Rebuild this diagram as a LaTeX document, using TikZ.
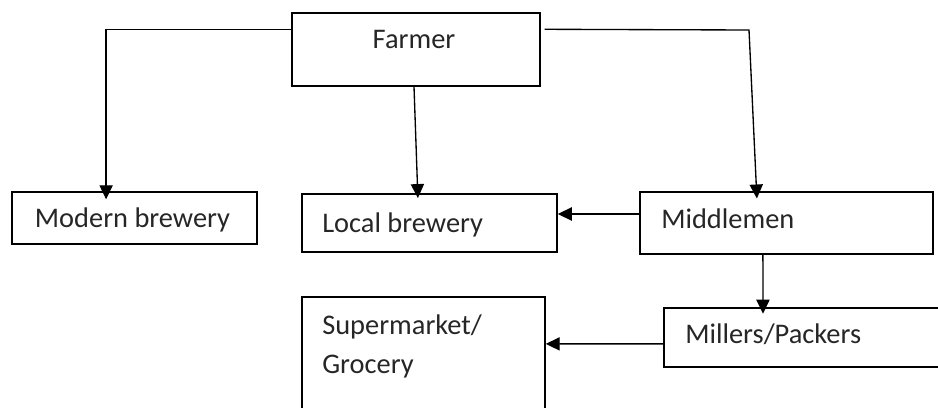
\documentclass[tikz,border=0pt]{standalone}
\usepackage{fontspec}
\setmainfont{Carlito}
\usepackage{tikz}
\usetikzlibrary{arrows.meta,positioning}
\definecolor{inktext}{HTML}{262626}

\tikzset{
    chainbox/.style={draw=black, line width=1pt, rectangle, inner sep=0pt},
    boxtext/.style={font=\fontsize{20.2}{39}\selectfont, color=inktext, inner sep=0pt},
    flow/.style={-{Triangle[length=0.35cm, width=0.33cm]}, line width=0.95pt, black}
}

\begin{document}
\begin{tikzpicture}[x=0.025cm, y=-0.025cm]
    \useasboundingbox (0,0) rectangle (938,407);

    % Boxes
    \node[chainbox, minimum width=6.2cm, minimum height=1.825cm] (farmer) at (416,49.5) {};
    \node[chainbox, minimum width=6.125cm, minimum height=1.3cm] (modern) at (134.5,218) {};
    \node[chainbox, minimum width=6.375cm, minimum height=1.45cm] (local) at (429.5,223) {};
    \node[chainbox, minimum width=7.325cm, minimum height=1.55cm] (middle) at (786.5,223) {};
    \node[chainbox, minimum width=7.4cm, minimum height=1.475cm] (millers) at (812,337.5) {};
    \node[chainbox, minimum width=6.075cm, minimum height=3.325cm] (super) at (423.5,363.5) {};

    % Texts
    \node[boxtext, anchor=base] (farmer-lbl) at (414,49) {Farmer};
    \node[boxtext, anchor=base] (modern-lbl) at (132.5,227) {Modern brewery};
    \node[boxtext, anchor=base west] (local-lbl) at (322,232) {Local brewery};
    \node[boxtext, anchor=base west] (middle-lbl) at (661,228) {Middlemen};
    \node[boxtext, anchor=base west] (millers-lbl) at (685,343) {Millers/Packers};
    \node[boxtext, anchor=base west] (super-lbl) at (322,334) {Supermarket/};
    \node[boxtext, anchor=base west] (grocery-lbl) at (322,373) {Grocery};

    % Connectors
    \draw[flow] ([yshift=-0.425cm]farmer.north west) -| ([shift={(-0.71cm,-0.2cm)}]modern.north);
    \draw[flow] ([xshift=-0.05cm]farmer.south) -- ([shift={(-0.29cm,-0.12cm)}]local.north);
    \coordinate (rbend) at (749,30);
    \draw[flow] ([shift={(0.1cm,-0.425cm)}]farmer.north east) -- (rbend) -- ([shift={(-0.74cm,-0.18cm)}]middle.north);
    \draw[flow] ([yshift=0.225cm]middle.west) -- ([yshift=0.225cm]local.east);
    \draw[flow] ([xshift=-0.59cm]middle.south) -- ([shift={(-1.225cm,-0.16cm)}]millers.north);
    \draw[flow] ([yshift=-0.16cm]millers.west) -- ([yshift=0.49cm]super.east);
\end{tikzpicture}
\end{document}
